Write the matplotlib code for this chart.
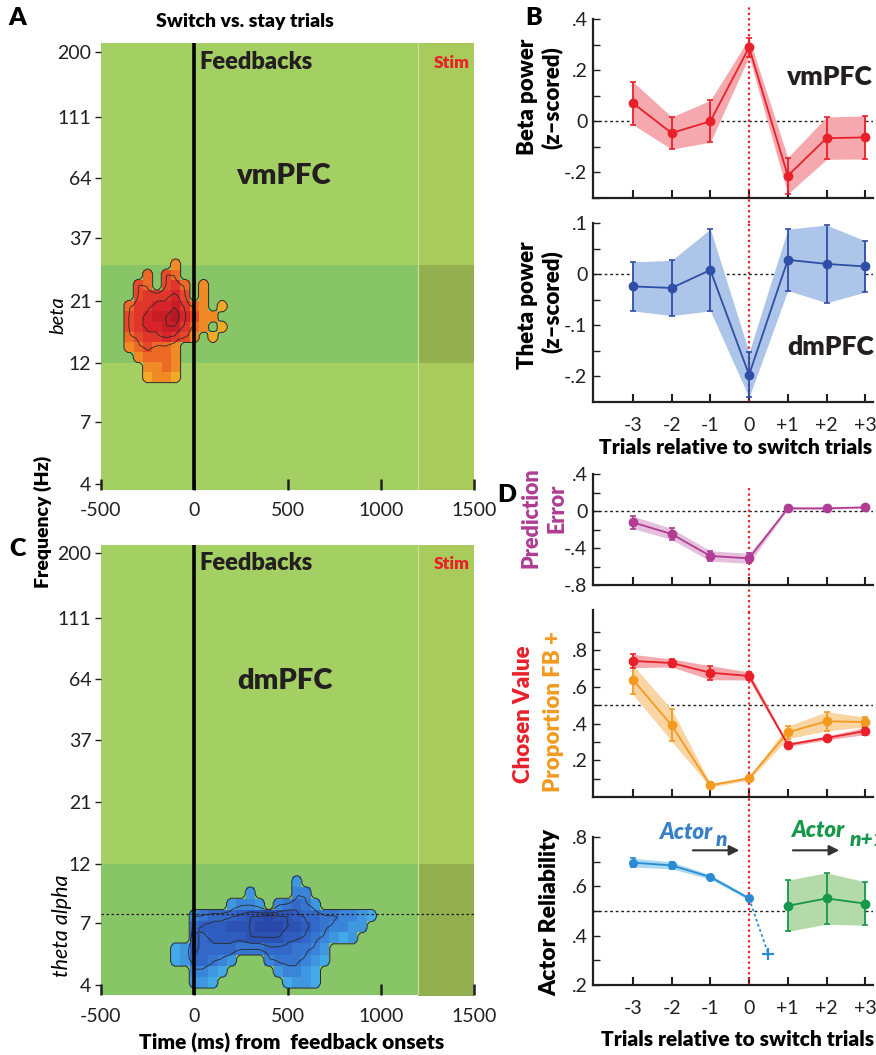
import numpy as np
import matplotlib
matplotlib.use("Agg")
import matplotlib.pyplot as plt
from matplotlib.colors import LinearSegmentedColormap
from matplotlib.ticker import FuncFormatter

plt.rcParams['font.family'] = ['Lato', 'DejaVu Sans']

W, H = 876, 1055

# ------------------------------------------------------------
# Data
# ------------------------------------------------------------
freq_ticks = [4, 7, 12, 21, 37, 64, 111, 200]
time_ticks = [-500, 0, 500, 1000, 1500]
stim_onset = 1200
beta_band = (12, 29)
theta_alpha_band = (3.0, 12)
theta_alpha_split = 7.6

# panel A cluster (switch vs stay, vmPFC): t-values, 0 = not significant
tf_a_time = [-350, -300, -250, -200, -150, -100, -50, 0, 50, 100, 150]
tf_a_freq = [10.5, 11.5, 12.6, 13.8, 15.1, 16.6, 18.2, 20.0, 22.0, 24.2, 26.6, 29.2]
tf_a_vals = [
    [0, 0, 2, 3, 3, 2, 0, 0, 0, 0, 0],
    [0, 0, 3, 3, 4, 3, 0, 0, 0, 0, 0],
    [0, 3, 4, 4, 4, 3, 0, 0, 0, 0, 0],
    [3, 4, 5, 4, 4, 3, 0, 0, 0, 0, 0],
    [4, 5, 6, 6, 7, 6, 5, 3, 0, 2, 0],
    [5, 6, 7, 7, 8, 8, 6, 4, 3, 0, 2],
    [5, 6, 7, 8, 8, 9, 7, 5, 3, 3, 0],
    [4, 6, 6, 7, 7, 8, 6, 4, 3, 0, 2],
    [0, 5, 6, 6, 6, 7, 5, 0, 3, 0, 0],
    [0, 5, 4, 0, 5, 6, 4, 0, 3, 0, 0],
    [0, 0, 4, 0, 5, 4, 0, 0, 0, 0, 0],
    [0, 0, 0, 0, 0, 3, 0, 0, 0, 0, 0],
]

# panel C cluster (switch vs stay, dmPFC)
tf_c_time = list(range(-100, 1000, 50))
tf_c_freq = [4.1, 4.53, 5.0, 5.54, 6.13, 6.78, 7.5, 8.3, 9.2, 10.2]
tf_c_vals = [
    [0, 0, 3, 3, 2, 0, 0, 0, 0, 0, 0, 0, 2, 3, 3, 2, 0, 0, 0, 0, 0, 0],
    [0, 0, 4, 4, 3, 2, 0, 0, 0, 0, 0, 3, 4, 4, 3, 2, 0, 0, 0, 0, 0, 0],
    [2, 3, 6, 6, 5, 4, 3, 0, 0, 0, 4, 5, 5, 5, 4, 3, 2, 0, 0, 0, 0, 0],
    [2, 3, 7, 6, 6, 6, 6, 5, 5, 5, 6, 6, 6, 5, 5, 4, 3, 0, 0, 0, 0, 0],
    [0, 0, 7, 6, 7, 7, 7, 7, 8, 8, 8, 8, 7, 7, 6, 5, 4, 3, 2, 3, 0, 0],
    [0, 0, 6, 7, 7, 7, 8, 8, 8, 9, 9, 9, 8, 8, 7, 6, 5, 4, 4, 3, 3, 0],
    [0, 0, 4, 5, 6, 6, 6, 7, 8, 8, 9, 8, 8, 7, 6, 6, 5, 5, 4, 4, 3, 2],
    [0, 0, 0, 0, 0, 0, 3, 4, 4, 3, 0, 4, 5, 6, 5, 3, 0, 0, 0, 0, 0, 0],
    [0, 0, 0, 0, 0, 0, 0, 0, 3, 0, 0, 0, 0, 4, 4, 0, 0, 0, 0, 0, 0, 0],
    [0, 0, 0, 0, 0, 0, 0, 0, 0, 0, 0, 0, 0, 3, 0, 0, 0, 0, 0, 0, 0, 0],
]

trials = [-3, -2, -1, 0, 1, 2, 3]
trial_labels = ['-3', '-2', '-1', '0', '+1', '+2', '+3']

beta_mean = [0.071, -0.046, 0.0, 0.289, -0.213, -0.066, -0.063]
beta_sem = [0.084, 0.063, 0.082, 0.036, 0.071, 0.083, 0.084]
theta_mean = [-0.024, -0.027, 0.008, -0.197, 0.028, 0.020, 0.015]
theta_sem = [0.048, 0.054, 0.080, 0.044, 0.060, 0.076, 0.050]

pe_mean = [-0.123, -0.249, -0.486, -0.512, 0.029, 0.029, 0.040]
pe_sem = [0.067, 0.060, 0.056, 0.054, 0.012, 0.010, 0.010]
cv_mean = [0.742, 0.731, 0.678, 0.660, 0.285, 0.322, 0.360]
cv_sem = [0.036, 0.022, 0.038, 0.022, 0.010, 0.010, 0.020]
fb_mean = [0.640, 0.391, 0.064, 0.102, 0.353, 0.413, 0.409]
fb_sem = [0.080, 0.087, 0.010, 0.010, 0.034, 0.052, 0.027]

actor_n_trials = [-3, -2, -1, 0]
actor_n_mean = [0.696, 0.685, 0.638, 0.551]
actor_n_sem = [0.018, 0.014, 0.009, 0.007]
actor_n_pred_trial = 0.5
actor_n_pred = 0.324
actor_n1_trials = [1, 2, 3]
actor_n1_mean = [0.521, 0.551, 0.530]
actor_n1_sem = [0.104, 0.104, 0.088]

# ------------------------------------------------------------
# Colours
# ------------------------------------------------------------
GREEN = '#A4D063'
GREEN_BAND = '#88C566'
GREEN_STIM = '#A8CB5B'
GREEN_STIM_BAND = '#93AF4F'
RED = '#E8202A'
RED_LIGHT = '#F5A8AD'
ORANGE = '#F39A1F'
ORANGE_LIGHT = '#F9D5A3'
PURPLE = '#B03C94'
PURPLE_LIGHT = '#E4C0DD'
NAVY = '#2F4EA5'
NAVY_LIGHT = '#AEC5EA'
SKY = '#2A8BD3'
SKY_LIGHT = '#A8D8F2'
GREEN_D = '#16974A'
GREEN_D_LIGHT = '#B4DAAA'
INK = '#231F20'
BOLD = 'heavy'

cmap_hot = LinearSegmentedColormap.from_list(
    'hot_cl', ['#F5B82A', '#EF7F24', '#E5412A', '#D6222A', '#B51A22'])
cmap_cold = LinearSegmentedColormap.from_list(
    'cold_cl', ['#46B4EA', '#3A84DA', '#3062C4', '#2A48AA'])

fig = plt.figure(figsize=(W / 100, H / 100), dpi=100)


def px_axes(x0, y0, x1, y1):
    return fig.add_axes([x0 / W, 1 - y1 / H, (x1 - x0) / W, (y1 - y0) / H])


def ftext(x, y, s, **kw):
    kw.setdefault('ha', 'center')
    kw.setdefault('va', 'center')
    return fig.text(x / W, 1 - y / H, s, **kw)


def lin_edges(c):
    c = np.asarray(c, float)
    d = np.diff(c)
    return np.r_[c[0] - d[0] / 2, c[:-1] + d / 2, c[-1] + d[-1] / 2]


def blur(a, n=1):
    p = np.pad(a, n)
    out = np.zeros_like(a)
    for i in range(2 * n + 1):
        for j in range(2 * n + 1):
            out += p[i:i + a.shape[0], j:j + a.shape[1]]
    return out / (2 * n + 1) ** 2


def draw_tf(ax, t, f, vals, cmap, band, ylim):
    ax.set_facecolor(GREEN)
    ax.set_yscale('log')
    ax.set_xlim(-500, 1500)
    ax.set_ylim(*ylim)
    ax.axhspan(band[0], band[1], color=GREEN_BAND, lw=0, zorder=0)
    ax.axvspan(stim_onset, 1500, color=GREEN_STIM, lw=0, zorder=0.1)
    ax.fill_between([stim_onset, 1500], band[0], band[1], color=GREEN_STIM_BAND,
                    lw=0, zorder=0.2)
    ax.axvline(stim_onset, color='#C8E2A0', lw=0.8, zorder=0.3)

    z = np.pad(np.asarray(vals, float), 1)
    tc = np.asarray(t, float)
    dt = tc[1] - tc[0]
    tc = np.r_[tc[0] - dt, tc, tc[-1] + dt]
    lf = np.log(np.asarray(f, float))
    df = lf[1] - lf[0]
    lf = np.r_[lf[0] - df, lf, lf[-1] + df]
    te = lin_edges(tc)
    fe = np.exp(lin_edges(lf))
    ax.pcolormesh(te, fe, np.ma.masked_equal(z, 0), cmap=cmap, vmin=1.5, vmax=9,
                  zorder=2, shading='flat')

    # finer grid for the cluster outlines
    k = 4
    te_f = np.interp(np.linspace(0, len(te) - 1, (len(te) - 1) * k + 1),
                     np.arange(len(te)), te)
    le_f = np.interp(np.linspace(0, len(fe) - 1, (len(fe) - 1) * k + 1),
                     np.arange(len(fe)), np.log(fe))
    tcf = (te_f[:-1] + te_f[1:]) / 2
    fcf = np.exp((le_f[:-1] + le_f[1:]) / 2)
    zf = np.kron(z, np.ones((k, k)))
    mask = blur((zf > 0).astype(float), 1)
    ax.contour(tcf, fcf, mask, levels=[0.45], colors='#2B2B2B', linewidths=0.7, zorder=3)
    ax.contour(tcf, fcf, blur(zf, 2), levels=[4.5, 6.5, 8], colors='#2B2B2B',
               linewidths=0.6, zorder=3)

    ax.axvline(0, color='k', lw=2.6, zorder=4)
    for s in ax.spines.values():
        s.set_visible(False)
    ax.set_yticks(freq_ticks)
    ax.set_yticklabels([str(v) for v in freq_ticks])
    ax.yaxis.set_minor_locator(matplotlib.ticker.NullLocator())
    ax.set_xticks(time_ticks)
    ax.set_xticklabels([str(v) for v in time_ticks])
    ax.tick_params(axis='y', direction='out', length=4, width=1, labelsize=14,
                   colors=INK, pad=3)
    ax.tick_params(axis='x', direction='in', length=8, width=1.8, labelsize=14,
                   colors=INK, pad=9)


def short(v, pos):
    s = f"{v:g}"
    return s.replace('0.', '.')


def trial_axes(ax, ylim, major, minor, show_labels):
    ax.set_xlim(-4.03, 3.2)
    ax.set_ylim(*ylim)
    ax.patch.set_alpha(0)
    for s in ['top', 'right']:
        ax.spines[s].set_visible(False)
    for s in ['left', 'bottom']:
        ax.spines[s].set_linewidth(1.6)
        ax.spines[s].set_color(INK)
    ax.set_xticks(trials)
    ax.set_xticklabels(trial_labels if show_labels else [])
    ax.tick_params(axis='x', direction='in', length=6, width=1.5, labelsize=14,
                   colors=INK, pad=11)
    ax.set_yticks(major)
    ax.set_yticks(minor, minor=True)
    ax.yaxis.set_major_formatter(FuncFormatter(short))
    ax.tick_params(axis='y', which='both', direction='in', length=5, width=1,
                   labelsize=14, colors=INK, pad=4)


def shaded(ax, x, m, s, col, light, ms=6):
    m = np.asarray(m)
    s = np.asarray(s)
    ax.fill_between(x, m - s, m + s, color=light, lw=0, zorder=1)
    ax.errorbar(x, m, yerr=s, fmt='o-', color=col, ms=ms, lw=1.3, elinewidth=1.3,
                capsize=2.5, capthick=1.2, zorder=3)


def switch_line(ax, lo, hi):
    ax.axvline(0, ymin=lo, ymax=hi, color=RED, lw=1.6, ls=(0, (1, 1.4)),
               clip_on=False, zorder=2)


def zero_line(ax, y):
    ax.axhline(y, color=INK, lw=1, ls=(0, (2, 2)), zorder=1)


# ------------------------------------------------------------
# Panels A and C: time-frequency clusters
# ------------------------------------------------------------
ax_a = px_axes(101, 43, 474, 490)
draw_tf(ax_a, tf_a_time, tf_a_freq, tf_a_vals, cmap_hot, beta_band, (3.78, 217))

ax_c = px_axes(101, 545, 474, 995)
draw_tf(ax_c, tf_c_time, tf_c_freq, tf_c_vals, cmap_cold, theta_alpha_band, (3.65, 216))
ax_c.axhline(theta_alpha_split, color=INK, lw=0.9, ls=(0, (2, 2)), zorder=3)

ftext(17, 18, 'A', fontsize=18, fontweight=BOLD)
ftext(17, 549, 'C', fontsize=18, fontweight=BOLD)
ftext(245, 22, 'Switch vs. stay trials', fontsize=14, fontweight=BOLD)
ftext(43, 522, 'Frequency (Hz)', rotation=90, fontsize=14, fontweight=BOLD)
ftext(292, 1043, 'Time (ms) from  feedback onsets', fontsize=15, fontweight=BOLD)
ftext(58, 315, 'beta', rotation=90, fontsize=14.5, style='italic')
ftext(62, 926, 'theta alpha', rotation=90, fontsize=15.5, style='italic')
for y0 in (62, 563):
    ftext(199, y0, 'Feedbacks', ha='left', fontsize=17, fontweight=BOLD, color=INK)
    ftext(452, y0 + 1, 'Stim', fontsize=12.5, fontweight=BOLD, color=RED)
ftext(283, 176, 'vmPFC', fontsize=21, fontweight=BOLD, color=INK)
ftext(285, 681, 'dmPFC', fontsize=21, fontweight=BOLD, color=INK)

# ------------------------------------------------------------
# Panel B: beta / theta power around switch trials
# ------------------------------------------------------------
ax_b1 = px_axes(593, 19, 873, 198)
trial_axes(ax_b1, (-0.3, 0.4), [-0.2, 0, 0.2, 0.4], [-0.3, -0.1, 0.1, 0.3], False)
zero_line(ax_b1, 0)
switch_line(ax_b1, -0.14, 1.07)
shaded(ax_b1, trials, beta_mean, beta_sem, RED, RED_LIGHT)
ax_b1.text(2.05, 0.175, 'vmPFC', ha='center', va='center', fontsize=19,
           fontweight=BOLD, color=INK)

ax_b2 = px_axes(593, 223, 873, 402)
trial_axes(ax_b2, (-0.25, 0.1), [-0.2, -0.1, 0, 0.1], [-0.15, -0.05, 0.05], True)
zero_line(ax_b2, 0)
switch_line(ax_b2, 0, 1)
shaded(ax_b2, trials, theta_mean, theta_sem, NAVY, NAVY_LIGHT)
ax_b2.text(2.1, -0.143, 'dmPFC', ha='center', va='center', fontsize=19,
           fontweight=BOLD, color=INK)

ftext(534, 18, 'B', fontsize=18, fontweight=BOLD)
ftext(527, 97, 'Beta power', rotation=90, fontsize=16, fontweight=BOLD)
ftext(552, 98, '(z\u2013scored)', rotation=90, fontsize=16, fontweight=BOLD)
ftext(527, 305, 'Theta power', rotation=90, fontsize=16, fontweight=BOLD)
ftext(552, 302, '(z\u2013scored)', rotation=90, fontsize=16, fontweight=BOLD)
ftext(736, 447, 'Trials relative to switch trials', fontsize=15, fontweight=BOLD)

# ------------------------------------------------------------
# Panel D: model variables
# ------------------------------------------------------------
ax_d1 = px_axes(593, 474, 873, 585)
trial_axes(ax_d1, (-0.8, 0.4), [-0.8, -0.4, 0, 0.4], [-0.6, -0.2, 0.2], False)
zero_line(ax_d1, 0)
switch_line(ax_d1, -0.25, 0.9)
shaded(ax_d1, trials, pe_mean, pe_sem, PURPLE, PURPLE_LIGHT)

ax_d2 = px_axes(593, 610, 873, 797)
trial_axes(ax_d2, (0, 1.02), [0.2, 0.4, 0.6, 0.8], [0.1, 0.3, 0.5, 0.7, 0.9], False)
zero_line(ax_d2, 0.5)
switch_line(ax_d2, -0.22, 1)
shaded(ax_d2, trials, fb_mean, fb_sem, ORANGE, ORANGE_LIGHT)
shaded(ax_d2, trials, cv_mean, cv_sem, RED, RED_LIGHT)

ax_d3 = px_axes(593, 837, 873, 985)
trial_axes(ax_d3, (0.2, 0.8), [0.2, 0.4, 0.6, 0.8], [0.3, 0.5, 0.7], True)
zero_line(ax_d3, 0.5)
switch_line(ax_d3, 0, 1)
shaded(ax_d3, actor_n_trials, actor_n_mean, actor_n_sem, SKY, SKY_LIGHT, ms=5.5)
ax_d3.plot([actor_n_trials[-1], actor_n_pred_trial], [actor_n_mean[-1], actor_n_pred],
           ls=(0, (1.5, 1.5)), color=SKY, lw=1.3, zorder=3)
ax_d3.plot(actor_n_pred_trial, actor_n_pred, '+', color=SKY, ms=9, mew=1.6, zorder=3)
shaded(ax_d3, actor_n1_trials, actor_n1_mean, actor_n1_sem, GREEN_D, GREEN_D_LIGHT)

arrow = dict(arrowstyle='-|>', color='#333333', lw=1.5, mutation_scale=15)
ax_d3.annotate('', xy=(-0.18, 0.746), xytext=(-1.52, 0.746), arrowprops=arrow,
               annotation_clip=False)
ax_d3.annotate('', xy=(2.4, 0.746), xytext=(1.06, 0.746), arrowprops=arrow,
               annotation_clip=False)
ax_d3.text(-1.65, 0.82, 'Actor', ha='center', va='center', fontsize=16,
           fontweight=BOLD, style='italic', color='#3A80C8', clip_on=False)
ax_d3.text(-0.86, 0.79, 'n', ha='left', va='center', fontsize=15,
           fontweight=BOLD, style='italic', color='#3A80C8', clip_on=False)
ax_d3.text(1.78, 0.825, 'Actor', ha='center', va='center', fontsize=16,
           fontweight=BOLD, style='italic', color=GREEN_D, clip_on=False)
ax_d3.text(2.6, 0.79, 'n+1', ha='left', va='center', fontsize=15,
           fontweight=BOLD, style='italic', color=GREEN_D, clip_on=False)

ftext(507, 495, 'D', fontsize=18, fontweight=BOLD)
ftext(531, 518, 'Prediction', rotation=90, fontsize=15.5, fontweight=BOLD, color=PURPLE)
ftext(557, 508, 'Error', rotation=90, fontsize=15.5, fontweight=BOLD, color=PURPLE)
ftext(524, 714, 'Chosen Value', rotation=90, fontsize=16, fontweight=BOLD, color=RED)
ftext(553, 712, 'Proportion FB +', rotation=90, fontsize=16, fontweight=BOLD,
      color=ORANGE)
ftext(550, 912, 'Actor Reliability', rotation=90, fontsize=16.5, fontweight=BOLD)
ftext(738, 1040, 'Trials relative to switch trials', fontsize=15, fontweight=BOLD)

fig.savefig('out.png', dpi=100)
